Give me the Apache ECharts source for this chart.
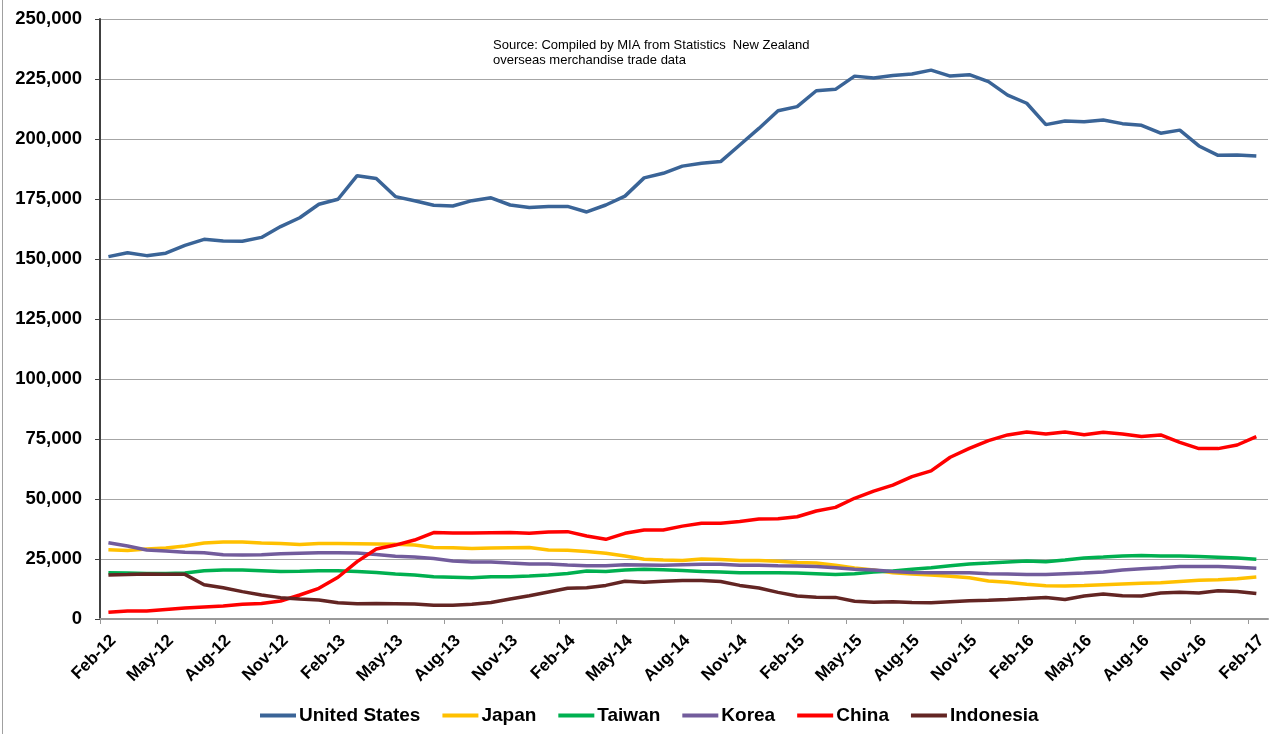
<!DOCTYPE html>
<html>
<head>
<meta charset="utf-8">
<title>NZ exports by destination</title>
<script src="https://cdn.jsdelivr.net/npm/echarts@6/dist/echarts.min.js"></script>
<style>
	html, body { margin: 0; padding: 0; background: #fff; }
	#chart { width: 1280px; height: 734px; }
</style>
</head>
<body>
<div id="chart"></div>
<script>
// months Feb-12 .. Feb-17
var months = [
	'Feb-12', 'Mar-12', 'Apr-12', 'May-12', 'Jun-12', 'Jul-12', 'Aug-12', 'Sep-12', 'Oct-12', 'Nov-12', 'Dec-12',
	'Jan-13', 'Feb-13', 'Mar-13', 'Apr-13', 'May-13', 'Jun-13', 'Jul-13', 'Aug-13', 'Sep-13', 'Oct-13', 'Nov-13', 'Dec-13',
	'Jan-14', 'Feb-14', 'Mar-14', 'Apr-14', 'May-14', 'Jun-14', 'Jul-14', 'Aug-14', 'Sep-14', 'Oct-14', 'Nov-14', 'Dec-14',
	'Jan-15', 'Feb-15', 'Mar-15', 'Apr-15', 'May-15', 'Jun-15', 'Jul-15', 'Aug-15', 'Sep-15', 'Oct-15', 'Nov-15', 'Dec-15',
	'Jan-16', 'Feb-16', 'Mar-16', 'Apr-16', 'May-16', 'Jun-16', 'Jul-16', 'Aug-16', 'Sep-16', 'Oct-16', 'Nov-16', 'Dec-16',
	'Jan-17', 'Feb-17'
]
// every third month gets a tick + label
var tickIndex = [0, 3, 6, 9, 12, 15, 18, 21, 24, 27, 30, 33, 36, 39, 42, 45, 48, 51, 54, 57, 60]

var unitedStates = [
	151000, 152600, 151400, 152400, 155700, 158200, 157500, 157400, 159000, 163500, 167200,
	172800, 174900, 184700, 183500, 176000, 174300, 172400, 172100, 174300, 175500, 172500, 171500,
	171900, 171900, 169600, 172500, 176200, 183800, 185700, 188700, 189900, 190600, 197500, 204400,
	211800, 213500, 220100, 220700, 226200, 225400, 226500, 227100, 228700, 226200, 226800, 223900,
	218300, 214900, 206000, 207500, 207200, 207900, 206400, 205700, 202400, 203700, 197100, 193200,
	193300, 192900
]
var japan = [
	28900, 28500, 29200, 29600, 30400, 31700, 32100, 32100, 31700, 31500, 31000,
	31500, 31500, 31400, 31250, 31100, 30800, 29800, 29700, 29400, 29600, 29700, 29800,
	28750, 28600, 28100, 27400, 26250, 24900, 24600, 24400, 25000, 24800, 24400, 24400,
	24100, 23500, 23300, 22400, 21250, 20400, 19300, 18750, 18300, 17800, 17200, 15800,
	15300, 14500, 13900, 13750, 14000, 14300, 14600, 14900, 15100, 15600, 16100, 16400,
	16800, 17500
]
var taiwan = [
	19300, 19200, 19000, 19000, 19200, 20100, 20400, 20400, 20100, 19800, 19900,
	20100, 20100, 19800, 19400, 18800, 18300, 17600, 17400, 17200, 17600, 17600, 17900,
	18300, 19000, 20000, 19800, 20400, 20700, 20500, 20250, 19800, 19600, 19300, 19300,
	19300, 19200, 18900, 18500, 18900, 19600, 20000, 20700, 21400, 22200, 22900, 23300,
	23750, 24200, 23900, 24600, 25400, 25800, 26250, 26500, 26250, 26250, 26000, 25700,
	25400, 24900
]
var korea = [
	31800, 30400, 28750, 28300, 27800, 27600, 26800, 26700, 26800, 27200, 27400,
	27600, 27600, 27500, 26900, 26100, 25800, 25200, 24200, 23800, 23750, 23300, 22900,
	22900, 22500, 22200, 22200, 22600, 22500, 22400, 22600, 22800, 22800, 22400, 22400,
	22200, 22100, 21900, 21400, 20700, 20400, 19800, 19400, 19300, 19300, 19300, 18900,
	18750, 18500, 18500, 18900, 19200, 19600, 20400, 20950, 21400, 21900, 21900, 21900,
	21600, 21100
]
var china = [
	2800, 3300, 3300, 4000, 4600, 5000, 5400, 6100, 6500, 7500, 10000,
	12800, 17400, 23900, 29200, 30800, 32900, 36000, 35800, 35800, 35900, 36000, 35700,
	36200, 36400, 34600, 33200, 35700, 37100, 37100, 38700, 39900, 39900, 40600, 41700,
	41800, 42600, 45000, 46500, 50300, 53300, 55800, 59300, 61700, 67400, 71100, 74300,
	76700, 77900, 77100, 77900, 76800, 77800, 77100, 76000, 76700, 73600, 71000, 71000,
	72500, 76000
]
var indonesia = [
	18300, 18500, 18750, 18600, 18600, 14300, 13050, 11400, 10000, 8900, 8300,
	7900, 6800, 6400, 6500, 6400, 6250, 5700, 5700, 6100, 6900, 8300, 9700,
	11250, 12800, 13050, 14000, 15700, 15300, 15700, 16000, 16000, 15600, 14000, 12900,
	11100, 9600, 9100, 9000, 7400, 7000, 7200, 6900, 6800, 7200, 7600, 7800,
	8100, 8500, 9000, 8100, 9600, 10400, 9700, 9600, 10850, 11100, 10850, 11800,
	11500, 10600
]

var seriesList = [
	{ name: 'United States', color: '#3A6497', values: unitedStates },
	{ name: 'Japan', color: '#FFC000', values: japan },
	{ name: 'Taiwan', color: '#00B050', values: taiwan },
	{ name: 'Korea', color: '#725C9C', values: korea },
	{ name: 'China', color: '#FF0000', values: china },
	{ name: 'Indonesia', color: '#632523', values: indonesia },
]

var dataOffset = 0.44 // points sit a little right of their month tick
var labelShift = 0.7 // rotated labels hang a bit right of the tick
var font = 'Liberation Sans, Arial, sans-serif'

var chart = echarts.init(document.getElementById('chart'))
chart.setOption({
	animation: false,
	textStyle: { fontFamily: font },
	grid: { left: 100, right: 12, top: 19, bottom: 115, containLabel: false },
	legend: {
		bottom: 4,
		left: 255,
		icon: 'rect',
		itemWidth: 36,
		itemHeight: 4,
		itemGap: 22,
		textStyle: { fontSize: 19, fontWeight: 'bold', color: '#000', padding: [0, 0, 0, -2] },
		data: seriesList.map(function (s) { return s.name }),
	},
	xAxis: {
		type: 'value',
		min: 0,
		max: 61.05,
		interval: 3,
		splitLine: { show: false },
		axisLine: { show: true, onZero: false, lineStyle: { color: '#999', width: 2 } },
		axisTick: { show: true, length: 5, customValues: tickIndex, lineStyle: { color: '#999', width: 1 } },
		axisLabel: {
			customValues: tickIndex.map(function (t) { return t + labelShift }),
			rotate: 45,
			margin: 19,
			fontSize: 17,
			fontWeight: 'bold',
			color: '#000',
			formatter: function (v) {
				return months[Math.round(v - labelShift)] || ''
			},
		},
	},
	yAxis: {
		type: 'value',
		min: 0,
		max: 250000,
		interval: 25000,
		axisLine: { show: true, lineStyle: { color: '#404040', width: 2 } },
		axisTick: { show: true, length: 5, lineStyle: { color: '#404040' } },
		splitLine: { lineStyle: { color: '#a6a6a6', width: 1 } },
		axisLabel: {
			margin: 18,
			fontSize: 18.5,
			fontWeight: 'bold',
			color: '#000',
			formatter: function (v) { return v.toLocaleString('en-US') },
		},
	},
	graphic: [
		{
			type: 'text',
			left: 493,
			top: 38,
			style: {
				text: 'Source: Compiled by MIA from Statistics  New Zealand\noverseas merchandise trade data',
				font: '13px ' + font,
				lineHeight: 15,
				fill: '#000',
			},
		},
		{
			type: 'line',
			shape: { x1: 2.5, y1: 0, x2: 2.5, y2: 734 },
			style: { stroke: '#a0a0a0', lineWidth: 1 },
		},
	],
	series: seriesList.map(function (s) {
		return {
			name: s.name,
			type: 'line',
			symbol: 'none',
			clip: true,
			color: s.color,
			lineStyle: { width: 3.5, color: s.color },
			data: s.values.map(function (v, i) { return [i + dataOffset, v] }),
		}
	}),
})
</script>
</body>
</html>
